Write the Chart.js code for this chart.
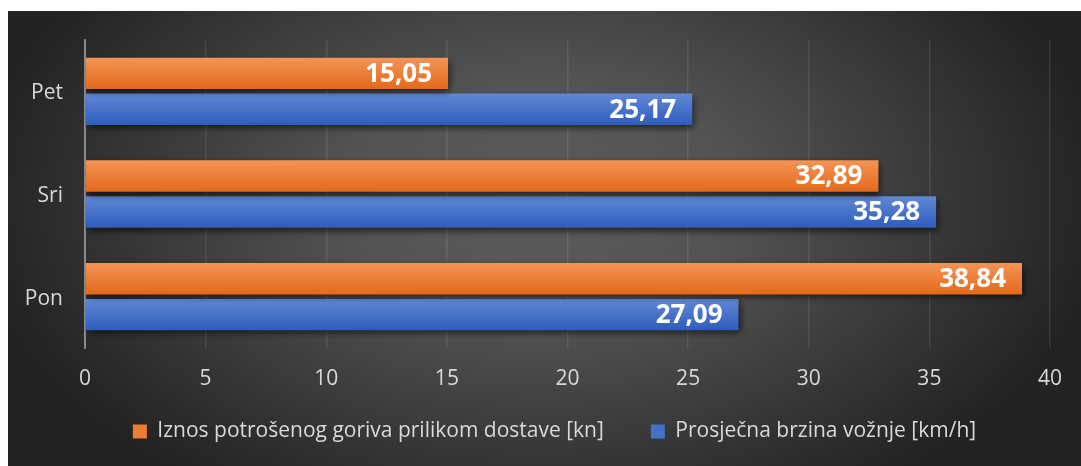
<!DOCTYPE html>
<html>
<head>
<meta charset="utf-8">
<script src="https://cdn.jsdelivr.net/npm/chart.js@4/dist/chart.umd.min.js"></script>
<style>
  html, body { margin: 0; padding: 0; background: #ffffff; }
  #wrap { width: 1081px; height: 466px; position: relative; }
</style>
</head>
<body>
<div id="wrap"><canvas id="c" width="1081" height="466"></canvas></div>
<script>
// ---- data ----
const categories = ['Pet', 'Sri', 'Pon'];
const seriesNames = ['Iznos potrošenog goriva prilikom dostave [kn]', 'Prosječna brzina vožnje [km/h]'];
const fuelCost = [15.05, 32.89, 38.84];
const avgSpeed = [25.17, 35.28, 27.09];
const xTicks = [0, 5, 10, 15, 20, 25, 30, 35, 40];

// ---- style ----
const FONT = '"Open Sans", "Noto Sans", sans-serif';
const TEXT = '#d9d9d9';
const CAT_PCT = 0.70, BAR_PCT = 0.875;
const palette = [
  { top: '#f39456', bottom: '#e4691a', legend: '#ed7d31' },
  { top: '#6188d4', bottom: '#2d5dbd', legend: '#4472c4' }
];

function barGradient(ctx) {
  const chart = ctx.chart;
  const ys = chart.scales.y;
  const area = chart.chartArea;
  if (!area || ys == null || ctx.dataIndex == null) return palette[ctx.datasetIndex].legend;
  const catH = (area.bottom - area.top) / categories.length;
  const slot = catH * CAT_PCT / 2;
  const center = ys.getPixelForValue(ctx.dataIndex) + (ctx.datasetIndex === 0 ? -slot / 2 : slot / 2);
  const half = slot * BAR_PCT / 2;
  const g = chart.ctx.createLinearGradient(0, center - half, 0, center + half);
  g.addColorStop(0, palette[ctx.datasetIndex].top);
  g.addColorStop(1, palette[ctx.datasetIndex].bottom);
  return g;
}

const bgPlugin = {
  id: 'bg',
  beforeDraw(chart) {
    const c = chart.ctx;
    c.save();
    c.fillStyle = '#ffffff';
    c.fillRect(0, 0, chart.width, chart.height);
    c.beginPath();
    c.rect(8, 11, chart.width - 8, chart.height - 11);
    c.clip();
    c.fillStyle = '#232323';
    c.fillRect(8, 11, chart.width - 8, chart.height - 11);
    c.translate(540, 200);
    c.scale(1, 0.62);
    const g = c.createRadialGradient(0, 0, 0, 0, 0, 560);
    g.addColorStop(0, '#5c5c5c');
    g.addColorStop(0.35, '#535353');
    g.addColorStop(1, '#232323');
    c.fillStyle = g;
    c.fillRect(-700, -700, 1400, 1400);
    c.restore();
  }
};

// move the legend box (after layout) so it sits where the reference has it
const legendShift = {
  id: 'legendShift',
  afterLayout(chart) {
    const lg = chart.legend;
    if (!lg) return;
    const dx = 29.5, dy = -16;
    lg.left += dx; lg.right += dx;
    lg.top += dy; lg.bottom += dy;
  }
};

const shadowPlugin = {
  id: 'shadow',
  beforeDatasetsDraw(chart) {
    const c = chart.ctx;
    c.save();
    c.shadowColor = 'rgba(0,0,0,0.65)';
    c.shadowBlur = 7;
    c.shadowOffsetX = 2;
    c.shadowOffsetY = 3;
  },
  afterDatasetsDraw(chart) {
    chart.ctx.restore();
  }
};

const labelPlugin = {
  id: 'valueLabels',
  afterDatasetsDraw(chart) {
    const c = chart.ctx;
    c.save();
    c.font = 'bold 26px ' + FONT;
    c.fillStyle = '#ffffff';
    c.textAlign = 'right';
    c.textBaseline = 'middle';
    chart.data.datasets.forEach((ds, di) => {
      const meta = chart.getDatasetMeta(di);
      meta.data.forEach((el, i) => {
        const txt = ds.data[i].toFixed(2).replace('.', ',');
        c.fillText(txt, el.x - 16, el.y + 1);
      });
    });
    c.restore();
  }
};

new Chart(document.getElementById('c'), {
  type: 'bar',
  data: {
    labels: categories,
    datasets: [
      { label: seriesNames[0], data: fuelCost, backgroundColor: barGradient, borderWidth: 0,
        categoryPercentage: CAT_PCT, barPercentage: BAR_PCT },
      { label: seriesNames[1], data: avgSpeed, backgroundColor: barGradient, borderWidth: 0,
        categoryPercentage: CAT_PCT, barPercentage: BAR_PCT }
    ]
  },
  options: {
    indexAxis: 'y',
    responsive: false,
    animation: false,
    devicePixelRatio: 1,
    layout: { padding: { top: 40, right: 31, left: 0, bottom: -2 } },
    scales: {
      x: {
        min: 0, max: 40,
        afterBuildTicks(scale) { scale.ticks = xTicks.map(v => ({ value: v })); },
        afterFit(scale) { scale.height = 42; },
        grid: { color: 'rgba(255,255,255,0.09)', lineWidth: 1.5, drawTicks: false },
        border: { display: false },
        ticks: { color: TEXT, font: { family: FONT, size: 21 }, padding: 18 }
      },
      y: {
        afterFit(scale) { scale.width = 85; },
        grid: { display: false, drawTicks: false },
        border: { display: true, color: '#8a8a8a', width: 2 },
        ticks: { color: TEXT, font: { family: FONT, size: 21 }, padding: 22, labelOffset: 2 }
      }
    },
    plugins: {
      tooltip: { enabled: false },
      legend: {
        position: 'bottom',
        labels: {
          color: TEXT,
          font: { family: FONT, size: 21 },
          boxWidth: 14, boxHeight: 14,
          padding: 47,
          generateLabels(chart) {
            return chart.data.datasets.map((ds, i) => ({
              text: ds.label, fillStyle: palette[i].legend, strokeStyle: palette[i].legend,
              lineWidth: 0, hidden: false, datasetIndex: i, fontColor: TEXT
            }));
          }
        }
      }
    }
  },
  plugins: [bgPlugin, legendShift, shadowPlugin, labelPlugin]
});
</script>
</body>
</html>
